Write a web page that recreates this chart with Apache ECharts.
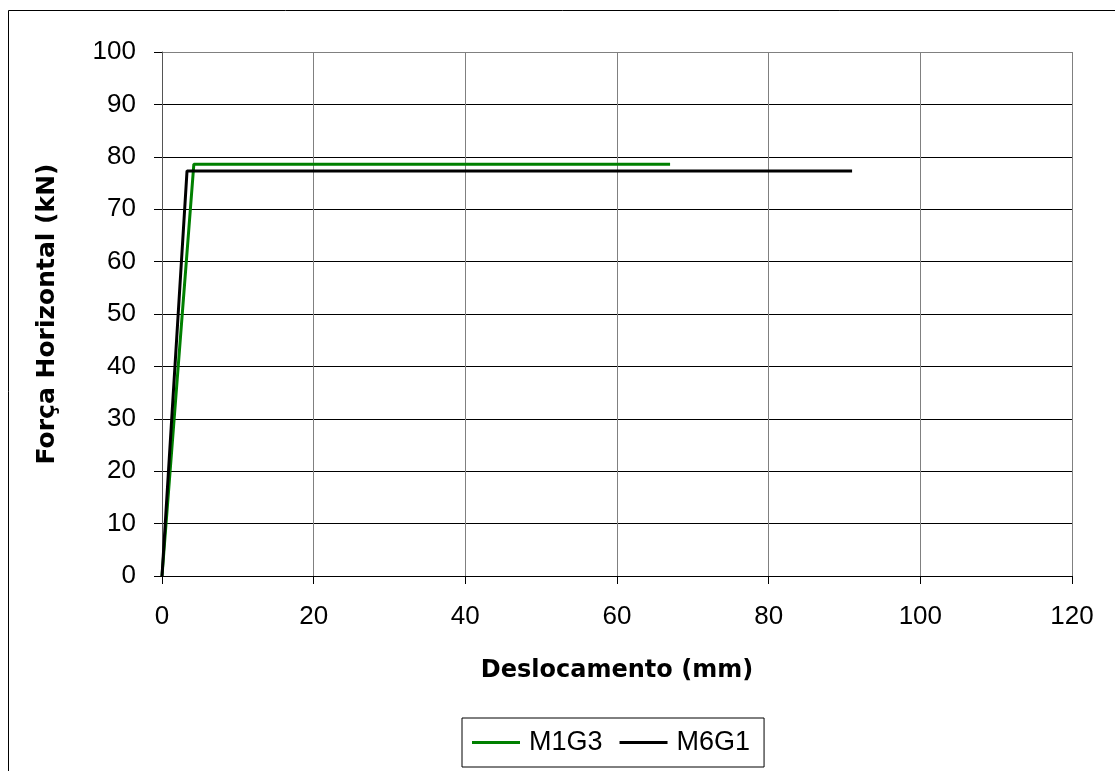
<!DOCTYPE html>
<html>
<head>
<meta charset="utf-8">
<script src="https://cdn.jsdelivr.net/npm/echarts@6/dist/echarts.min.js"></script>
<style>html,body{margin:0;padding:0;background:#fff}#c{width:1115px;height:771px}</style>
</head>
<body>
<div id="c"></div>
<script>
const seriesNames = ['M1G3', 'M6G1'];
const xM1G3 = [0, 4.2, 67.0];
const yM1G3 = [0, 78.6, 78.6];
const xM6G1 = [0, 3.3, 91.0];
const yM6G1 = [0, 77.3, 77.3];
const xTicks = [0, 20, 40, 60, 80, 100, 120];
const yTicks = [0, 10, 20, 30, 40, 50, 60, 70, 80, 90, 100];
const colors = ['#008000', '#000000'];

const pairs = (xs, ys) => xs.map((x, i) => [x, ys[i]]);
const FONT = '"Liberation Sans", Arial, sans-serif';
const BOLDFONT = '"DejaVu Sans", "Liberation Sans", sans-serif';
// horizontal grid lines are black, the top border of the plot is grey
const ySplitColors = yTicks.map((v, i) => (i === yTicks.length - 1 ? '#808080' : '#000'));

const chart = echarts.init(document.getElementById('c'), null, {renderer: 'canvas'});
chart.setOption({
  animation: false,
  backgroundColor: '#fff',
  textStyle: {fontFamily: FONT},
  graphic: [{
    type: 'rect', left: 6, top: 8,
    shape: {x: 0, y: 0, width: 1120, height: 780},
    style: {fill: 'none', stroke: '#000', lineWidth: 1}, silent: true, z: -10
  }],
  grid: {left: 162, top: 52, width: 910, height: 524, show: false},
  xAxis: {
    type: 'value', min: xTicks[0], max: xTicks[xTicks.length - 1], interval: xTicks[1] - xTicks[0],
    name: 'Deslocamento (mm)', nameLocation: 'middle', nameGap: 83,
    nameTextStyle: {fontFamily: BOLDFONT, fontSize: 24, fontWeight: 'bold', color: '#000'},
    axisLine: {show: true, lineStyle: {color: '#000', width: 1}},
    axisTick: {show: true, inside: false, length: 8, lineStyle: {color: '#000'}},
    axisLabel: {fontFamily: FONT, fontSize: 26, color: '#000', margin: 28},
    splitLine: {show: true, lineStyle: {color: '#808080', width: 1}}
  },
  yAxis: {
    type: 'value', min: yTicks[0], max: yTicks[yTicks.length - 1], interval: yTicks[1] - yTicks[0],
    name: 'Força Horizontal (kN)', nameLocation: 'middle', nameGap: 102,
    nameTextStyle: {fontFamily: BOLDFONT, fontSize: 25, fontWeight: 'bold', color: '#000'},
    axisLine: {show: true, lineStyle: {color: '#555', width: 1}},
    axisTick: {show: true, inside: false, length: 8, lineStyle: {color: '#000'}},
    axisLabel: {fontFamily: FONT, fontSize: 26, color: '#000', margin: 26},
    splitLine: {show: true, lineStyle: {color: ySplitColors, width: 1}}
  },
  legend: {
    data: seriesNames,
    left: 462, top: 718,
    orient: 'horizontal',
    icon: 'rect', itemWidth: 48, itemHeight: 3, itemGap: 17,
    padding: [11, 14, 11, 10],
    borderColor: '#000', borderWidth: 1,
    textStyle: {fontFamily: FONT, fontSize: 27, color: '#000', padding: [0, 0, 0, 4]}
  },
  series: [
    {name: seriesNames[0], type: 'line', data: pairs(xM1G3, yM1G3), symbol: 'none',
     lineStyle: {color: colors[0], width: 3}, itemStyle: {color: colors[0]}},
    {name: seriesNames[1], type: 'line', data: pairs(xM6G1, yM6G1), symbol: 'none',
     lineStyle: {color: colors[1], width: 3}, itemStyle: {color: colors[1]}}
  ]
});
</script>
</body>
</html>
